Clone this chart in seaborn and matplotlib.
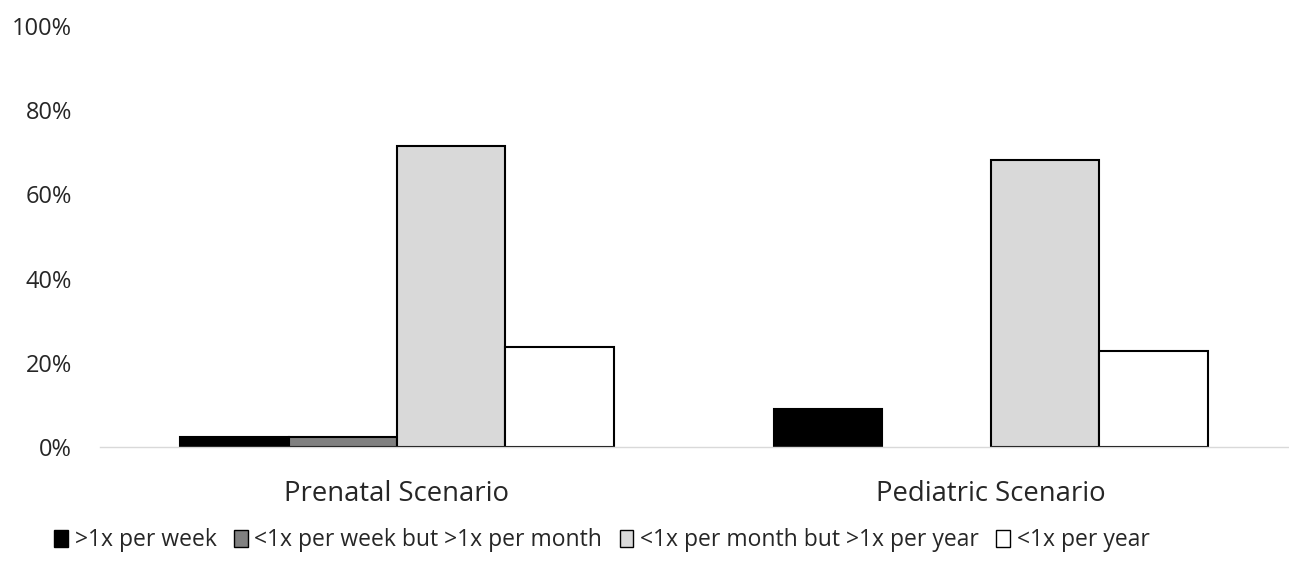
import matplotlib
matplotlib.use("Agg")
import matplotlib.pyplot as plt
import seaborn as sns
import pandas as pd
from matplotlib.ticker import PercentFormatter, FixedLocator
from matplotlib.patches import Patch

# Données (en %)
scenarios = ["Prenatal Scenario", "Pediatric Scenario"]
frequencies = [">1x per week", "<1x per week but >1x per month",
               "<1x per month but >1x per year", "<1x per year"]
prenatal = [2.4, 2.4, 71.4, 23.8]
pediatric = [9.1, 0.0, 68.2, 22.7]
colors = ["#000000", "#808080", "#D9D9D9", "#FFFFFF"]

df = pd.DataFrame({
    "scenario": [scenarios[0]] * 4 + [scenarios[1]] * 4,
    "frequency": frequencies * 2,
    "pct": prenatal + pediatric,
})

sns.set_style("white")
plt.rcParams["font.family"] = ["Open Sans", "DejaVu Sans"]

fig = plt.figure(figsize=(12.89, 5.67), dpi=100)
ax = fig.add_axes([0.0776, 0.2116, 0.9214, 0.7424])

sns.barplot(data=df, x="scenario", y="pct", hue="frequency",
            hue_order=frequencies, palette=colors, width=0.73,
            edgecolor="black", linewidth=1.5, ax=ax, legend=False)

# pas de contour pour les barres à zéro
for p in ax.patches:
    if p.get_height() == 0:
        p.set_linewidth(0)

ax.set_ylim(0, 100)
ax.set_xlim(-0.5, 1.5)
ax.yaxis.set_major_formatter(PercentFormatter(decimals=0))
ax.set_yticks([0, 20, 40, 60, 80, 100])
ax.set_xlabel("")
ax.set_ylabel("")
ax.tick_params(axis="y", length=0, labelsize=17, pad=20)
ax.tick_params(axis="x", which="major", length=0, labelsize=19.8, pad=24)
ax.xaxis.set_minor_locator(FixedLocator([-0.5, 0.5, 1.5]))
ax.tick_params(axis="x", which="minor", length=10, color="#D9D9D9", width=1)

for side in ["top", "right", "left"]:
    ax.spines[side].set_visible(False)
ax.spines["bottom"].set_color("#D9D9D9")
ax.spines["bottom"].set_linewidth(1)

handles = [Patch(facecolor=c, edgecolor="black", linewidth=1) for c in colors]
fig.legend(handles, frequencies, loc="center", bbox_to_anchor=(0.467, 0.047),
           ncol=4, frameon=False, fontsize=16.5, handlelength=0.6,
           handleheight=0.75, handletextpad=0.3, columnspacing=0.75)

fig.savefig("out.png", dpi=100)
